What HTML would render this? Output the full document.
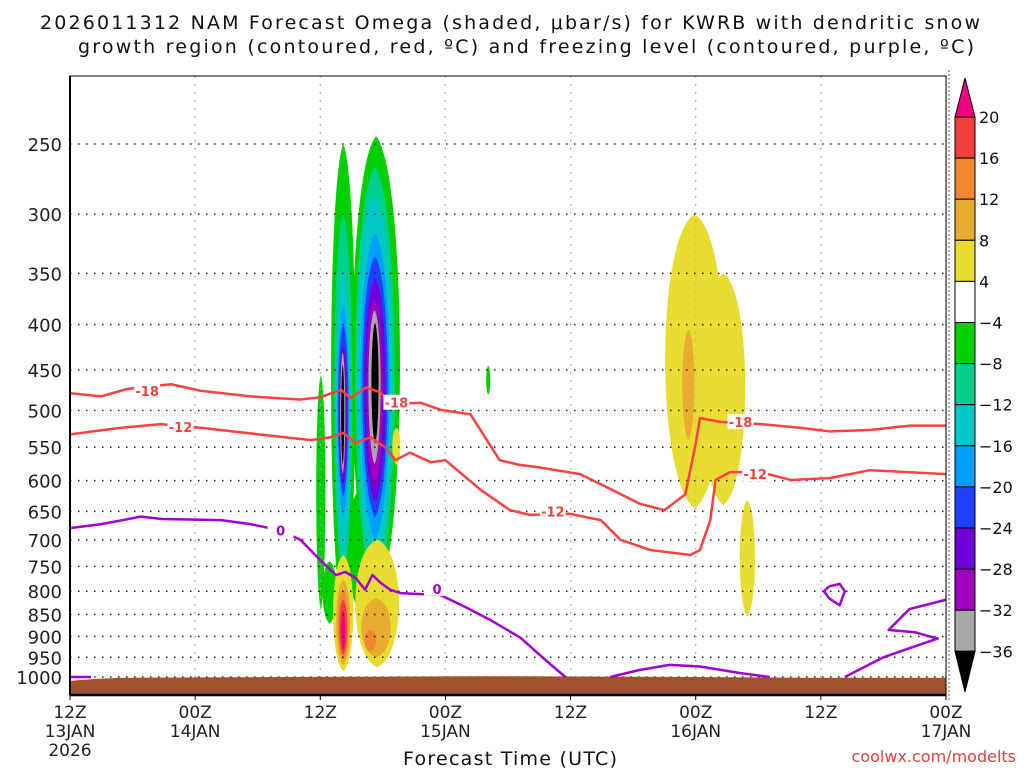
<!DOCTYPE html>
<html><head><meta charset="utf-8"><style>
body{margin:0;background:#fff;width:1024px;height:768px;overflow:hidden;font-family:"DejaVu Sans","Liberation Sans",sans-serif;}
svg text{font-family:"DejaVu Sans","Liberation Sans",sans-serif;}
</style></head><body>
<svg id="chart" width="1024" height="768" viewBox="0 0 1024 768" xmlns="http://www.w3.org/2000/svg">
<text x="40" y="29" font-size="19" textLength="940" lengthAdjust="spacing" fill="#111">2026011312 NAM Forecast Omega (shaded, μbar/s) for KWRB with dendritic snow</text>
<text x="78" y="53" font-size="19" textLength="896" lengthAdjust="spacing" fill="#111">growth region (contoured, red, ºC) and freezing level (contoured, purple, ºC)</text>
<g id="shade"></g>
<g id="grid"></g>
<g id="ground"></g>
<g id="lines"></g>
<g id="axes"></g>
<g id="cbar"></g>
<text x="510" y="765" font-size="19" textLength="214" lengthAdjust="spacing" text-anchor="middle" fill="#111">Forecast Time (UTC)</text>
<text x="1016" y="762" font-size="16" text-anchor="end" fill="#e04040">coolwx.com/modelts</text>
</svg>
<script>
const NS='http://www.w3.org/2000/svg';
// data
const hoursGrid=[0,12,24,36,48,60,72,84];
const xTickTop=['12Z','00Z','12Z','00Z','12Z','00Z','12Z','00Z'];
const xTickMid=['13JAN','14JAN','','15JAN','','16JAN','','17JAN'];
const xTickBot=['2026','','','','','','',''];
const pLevels=[250,300,350,400,450,500,550,600,650,700,750,800,850,900,950,1000];
const cbarLevels=['20','16','12','8','4','−4','−8','−12','−16','−20','−24','−28','−32','−36'];
const cbarColors=['#f04040','#f08830','#e8ac30','#e8dc30','#ffffff','#00d000','#00d08c','#00c8c8','#00a0ff','#2040ff','#7000d8','#a000c0','#a8a8a8'];
const levelColors={pink:'#f0007c',red:'#f04040',orange:'#f08830',lorange:'#e8ac30',yellow:'#e8dc30',green:'#00d000',teal:'#00d08c',cyan:'#00c8c8',lblue:'#00a0ff',blue:'#2040ff',purple:'#7000d8',mpurple:'#a000c0',gray:'#a8a8a8',black:'#000000'};
// blobs: [h0,h1,pTop,pBot,level]
const blobs=[
[23.6,24.5,456,840,'green'],[24.2,25.6,740,870,'green'],
[25.0,27.4,250,862,'green'],[27.0,31.7,245,818,'green'],[26.5,30.5,600,860,'green'],
[25.3,27.1,300,777,'teal'],[25.5,26.9,345,738,'cyan'],[25.6,26.8,380,660,'lblue'],[25.7,26.7,400,625,'blue'],[25.8,26.6,421,607,'purple'],[25.9,26.4,430,590,'gray'],[26.0,26.3,444,576,'black'],
[27.3,31.2,265,800,'teal'],[27.5,30.9,285,760,'cyan'],[27.8,30.7,315,700,'lblue'],[28.0,30.5,335,660,'blue'],[28.2,30.3,355,635,'purple'],[28.4,30.0,375,605,'mpurple'],[28.6,29.8,385,575,'gray'],[28.9,29.6,398,545,'black'],
[39.9,40.3,445,480,'green'],
[25.2,27.2,728,985,'yellow'],[25.5,26.9,777,969,'lorange'],[25.7,26.7,797,957,'orange'],[25.8,26.6,818,944,'red'],[26.0,26.4,840,932,'pink'],
[27.3,31.6,700,975,'yellow'],[27.9,30.8,815,950,'lorange'],[28.2,29.4,885,935,'orange'],
[30.9,31.7,523,576,'yellow'],
[57.0,62.8,300,645,'yellow'],[60.5,64.8,350,640,'yellow'],[58.7,59.9,405,540,'lorange'],
[64.2,65.7,631,855,'yellow']];
const m18Hours=[0,3,5.4,9.7,12.5,17.3,22.1,24,26,26.9,28.4,29.8,30.7,33.6,35.5,38.4,41.2,43.1,45.1,48.9,51.8,54.6,57,59,60,60.4,62.4,66.2,70,72.9,76.7,80.6,84];
const m18Press=[478,482,473,467,475,482,486,483,474,484,471,477,492,490,499,505,569,576,580,590,613,637,648,622,545,510,515,518,523,528,526,520,520];
const m12Hours=[0,4.9,8.7,12.5,19.3,23.1,25,26.2,27.4,28.8,30.3,31.2,32.6,34.6,36,39.4,42.2,44.1,47.9,50.9,52.8,55.7,59.5,60.4,61.4,61.9,63.3,66.2,69.1,72.9,76.7,84];
const m12Press=[532,523,518,523,534,540,536,530,544,536,551,569,558,572,569,615,648,656,654,665,700,719,728,719,665,599,587,587,599,596,584,590];
const frzHours=[0,3,6.8,8.8,14.5,17.3,20.2,22.1,24,25.5,26.4,27.4,28.3,29,29.8,30.7,31.7,33.6,35.5,37.5,40.3,43.2,45.6,47.5];
const frzPress=[679,672,659,663,665,672,683,700,738,767,761,773,797,767,783,797,804,806,808,829,862,903,957,1000];
const frz2Hours=[51.8,54.6,57.5,60.4,64.3,67.1];
const frz2Press=[1000,982,969,973,990,1000];
const frz3Hours=[74.3,78,82,83.2,81,78.5,80.5,84];
const frz3Press=[1000,950,915,905,890,885,838,818];
const frz4Hours=[0,2];
const frz4Press=[1000,1000];
const loopHours=[72.8,73.8,74.3,73.8,72.8,72.3,72.8];
const loopPress=[790,785,800,830,815,800,790];
const groundHours=[0,2.5,5,20,40,60,70,84];
const groundPress=[1010,1005,1002,1000,998,1000,1002,1002];
const labels=[[7.4,475,'-18','#f04040'],[31.3,490,'-18','#f04040'],[64.3,515,'-18','#f04040'],[10.6,522,'-12','#f04040'],[46.3,650,'-12','#f04040'],[65.7,590,'-12','#f04040'],[20.2,683,'0','#a000d0'],[35.2,795,'0','#a000d0']];

const X0=70,X1=946,Y0=76,Y1=695,H=84;
const xs=h=>X0+(X1-X0)*h/H;
const ys=p=>677-384.5*Math.log(1000/p);
function el(tag,attrs,parent){const e=document.createElementNS(NS,tag);for(const k in attrs)e.setAttribute(k,attrs[k]);parent.appendChild(e);return e;}

const shade=document.getElementById('shade');
blobs.forEach(b=>{
  const xa=xs(b[0]),xb=xs(b[1]),ya=ys(b[2]),yb=ys(b[3]);
  const cx=(xa+xb)/2,hw=(xb-xa)/2*1.3,hh=yb-ya;
  const e=el('path',{d:`M${cx},${ya} C${cx+hw},${ya+hh*0.08} ${cx+hw},${yb-hh*0.1} ${cx},${yb} C${cx-hw},${yb-hh*0.1} ${cx-hw},${ya+hh*0.08} ${cx},${ya}Z`,fill:levelColors[b[4]]},shade);
  
  
});

const grid=document.getElementById('grid');
pLevels.forEach(p=>{const l=el('line',{x1:X0,x2:X1,y1:ys(p),y2:ys(p),stroke:'#222','stroke-width':1.5,'stroke-dasharray':'1.5 6.5'},grid);
});
hoursGrid.forEach(h=>{const l=el('line',{x1:xs(h),x2:xs(h),y1:Y0,y2:Y1,stroke:'#aaa','stroke-width':1.5,'stroke-dasharray':'1.5 6.5'},grid);
});

const ground=document.getElementById('ground');
let gd=`M${xs(0)},${Y1} `;groundHours.forEach((h,i)=>{gd+=`L${xs(h)},${ys(groundPress[i])} `;});gd+=`L${xs(84)},${Y1}Z`;
const gp=el('path',{d:gd,fill:'#a0522d'},ground);


const lines=document.getElementById('lines');
function poly(hs,ps,color,name){const e=el('polyline',{points:hs.map((h,i)=>xs(h)+','+ys(ps[i])).join(' '),fill:'none',stroke:color,'stroke-width':2.5,'stroke-linejoin':'round'},lines);
}
poly(m18Hours,m18Press,'#ff4040','contour-minus18');
poly(m12Hours,m12Press,'#ff4040','contour-minus12');
poly(frzHours,frzPress,'#a000d0','freezing-level-main');
poly(frz2Hours,frz2Press,'#a000d0','freezing-level-seg2');
poly(frz3Hours,frz3Press,'#a000d0','freezing-level-seg3');
poly(frz4Hours,frz4Press,'#a000d0','freezing-level-seg4');
poly(loopHours,loopPress,'#a000d0','freezing-level-loop');
labels.forEach(l=>{const x=xs(l[0]),y=ys(l[1]);
const r=el('rect',{x:x-13,y:y-8,width:26,height:15,fill:'#fff'},lines);
const t=el('text',{x:x,y:y+5,'font-size':13,'font-weight':'bold','text-anchor':'middle',fill:l[3]},lines);t.textContent=l[2];
});

const axes=document.getElementById('axes');
const fr=el('rect',{x:X0,y:Y0,width:X1-X0,height:Y1-Y0,fill:'none',stroke:'#000','stroke-width':1},axes);

const bl=el('line',{x1:X0,x2:X1,y1:Y1,y2:Y1,stroke:'#000','stroke-width':2.5},axes);
const ll=el('line',{x1:X0,x2:X0,y1:Y0,y2:Y1,stroke:'#000','stroke-width':2},axes);
pLevels.forEach(p=>{const t=el('text',{x:62,y:ys(p)+7,'font-size':18,'text-anchor':'end',fill:'#222'},axes);t.textContent=p;
});
hoursGrid.forEach((h,i)=>{[xTickTop[i],xTickMid[i],xTickBot[i]].forEach((s,j)=>{if(!s)return;
const t=el('text',{x:xs(h),y:718+j*19,'font-size':17,'text-anchor':'middle',fill:'#222'},axes);t.textContent=s;
});
const k=el('line',{x1:xs(h),x2:xs(h),y1:Y1,y2:Y1+5,stroke:'#000'},axes);});

const cbar=document.getElementById('cbar');
const CX=955,CW=20,CT=117,CS=41.1;
const tu=el('polygon',{points:`${CX},${CT} ${CX+CW/2},78 ${CX+CW},${CT}`,fill:'#f0007c',stroke:'#000'},cbar);
cbarColors.forEach((c,i)=>{const r=el('rect',{x:CX,y:CT+i*CS,width:CW,height:CS,fill:c,stroke:'#000'},cbar);
});
const bot=CT+cbarColors.length*CS;
const td=el('polygon',{points:`${CX},${bot} ${CX+CW/2},692 ${CX+CW},${bot}`,fill:'#000',stroke:'#000'},cbar);
cbarLevels.forEach((s,i)=>{const t=el('text',{x:979,y:CT+i*CS+6,'font-size':16,fill:'#111'},cbar);t.textContent=s;
});
const sep=el('line',{x1:949,x2:949,y1:70,y2:700,stroke:'#555','stroke-dasharray':'2 2'},cbar);
</script>
</body></html>
